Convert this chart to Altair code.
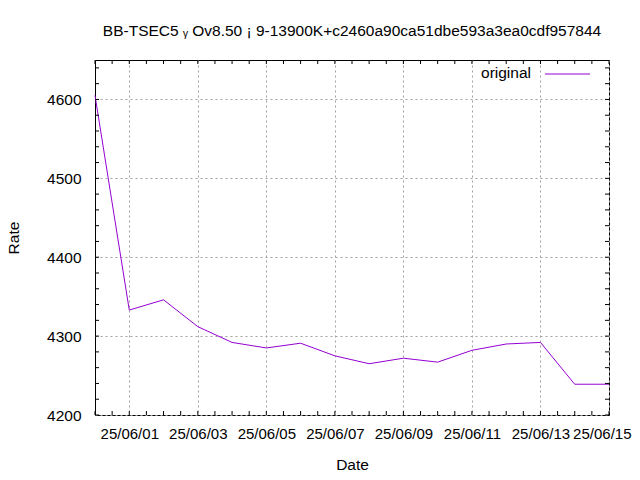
import altair as alt
import pandas as pd

# ---- data ----
dates = ["2025-05-31", "2025-06-01", "2025-06-02", "2025-06-03", "2025-06-04",
         "2025-06-05", "2025-06-06", "2025-06-07", "2025-06-08", "2025-06-09",
         "2025-06-10", "2025-06-11", "2025-06-12", "2025-06-13", "2025-06-14",
         "2025-06-15"]
rates = [4605, 4333, 4346, 4312, 4292, 4285, 4291, 4275, 4265, 4272,
         4267, 4282, 4290, 4292, 4239, 4239]
series_name = ["original"]
title_text = "BB-TSEC5 \u1d67 Ov8.50 \u00a1 9-13900K+c2460a90ca51dbe593a3ea0cdf957844"
x_major = ["2025-06-01", "2025-06-03", "2025-06-05", "2025-06-07", "2025-06-09",
           "2025-06-11", "2025-06-13", "2025-06-15"]
y_major = [4200, 4300, 4400, 4500, 4600]

W, H = 514, 355
FONT = "Liberation Sans"
FS = 15.5
COLOR = "#9400d3"

df = pd.DataFrame({"date": dates, "rate": rates})

# minor/major tick positions (every 12 hours, every 20 units)
x_ticks = pd.DataFrame({"t": [
    (pd.Timestamp("2025-05-31") + pd.Timedelta(hours=12 * i)).strftime("%Y-%m-%dT%H:%M:%SZ")
    for i in range(31)]})
y_ticks = pd.DataFrame({"v": list(range(4200, 4660, 20))})

xscale = alt.Scale(type="utc", domain=[alt.DateTime(year=2025, month=5, date=31, utc=True),
                                        alt.DateTime(year=2025, month=6, date=15, utc=True)])
yscale = alt.Scale(domain=[4200, 4650], nice=False, zero=False)

x_vals = [alt.DateTime(year=int(d[:4]), month=int(d[5:7]), date=int(d[8:]), utc=True) for d in x_major]

line = alt.Chart(df).mark_line(color=COLOR, strokeWidth=1).encode(
    x=alt.X("date:T", scale=xscale, title="Date",
            axis=alt.Axis(values=x_vals, labelExpr="utcFormat(datum.value, '%y/%m/%d')",
                          ticks=False, domain=False, labelPadding=11, labelFontSize=15,
                          labelFlush=True, labelFlushOffset=22,
                          labelOverlap=False,
                          grid=True, gridDash=[2, 3], gridColor="#a0a0a0", gridOpacity=1,
                          titleBaseline="alphabetic", titleY=54, titleFontWeight="normal")),
    y=alt.Y("rate:Q", scale=yscale, title="Rate",
            axis=alt.Axis(values=y_major, format="d", ticks=False, domain=False, labelPadding=14,
                          labelFlush=False,
                          grid=True, gridDash=[2, 3], gridColor="#a0a0a0", gridOpacity=1,
                          titleX=-74, titleY=H / 2, titleFontWeight="normal")),
)

tick_len = 4
bx = alt.Chart(x_ticks).mark_rule(color="black", strokeWidth=1).encode(
    x=alt.X("t:T", scale=xscale), y=alt.value(H), y2=alt.value(H - tick_len))
tx = alt.Chart(x_ticks).mark_rule(color="black", strokeWidth=1).encode(
    x=alt.X("t:T", scale=xscale), y=alt.value(0), y2=alt.value(tick_len))
ly = alt.Chart(y_ticks).mark_rule(color="black", strokeWidth=1).encode(
    y=alt.Y("v:Q", scale=yscale), x=alt.value(0), x2=alt.value(tick_len))
ry = alt.Chart(y_ticks).mark_rule(color="black", strokeWidth=1).encode(
    y=alt.Y("v:Q", scale=yscale), x=alt.value(W), x2=alt.value(W - tick_len))

leg_df = pd.DataFrame({"name": series_name})
leg_text = alt.Chart(leg_df).mark_text(align="right", baseline="alphabetic", font=FONT,
                                       fontSize=FS, color="black").encode(
    text="name:N", x=alt.value(436), y=alt.value(18))
leg_line = alt.Chart(leg_df).mark_rule(color=COLOR, strokeWidth=1).encode(
    x=alt.value(450), x2=alt.value(495), y=alt.value(14))

chart = alt.layer(line, bx, tx, ly, ry, leg_text, leg_line).properties(
    width=W, height=H,
    title=alt.TitleParams(title_text, font=FONT, fontSize=FS, fontWeight="normal",
                          anchor="middle", offset=20, color="black"),
    autosize=alt.AutoSizeParams(type="none"),
    padding={"left": 87, "top": 52, "right": 23, "bottom": 57},
).configure(font=FONT).configure_view(stroke="black", strokeWidth=1).configure_axis(
    labelFont=FONT, labelFontSize=FS, labelColor="black",
    titleFont=FONT, titleFontSize=FS, titleColor="black",
)

chart.save("out.html", embed_options={"renderer": "svg", "actions": False})
